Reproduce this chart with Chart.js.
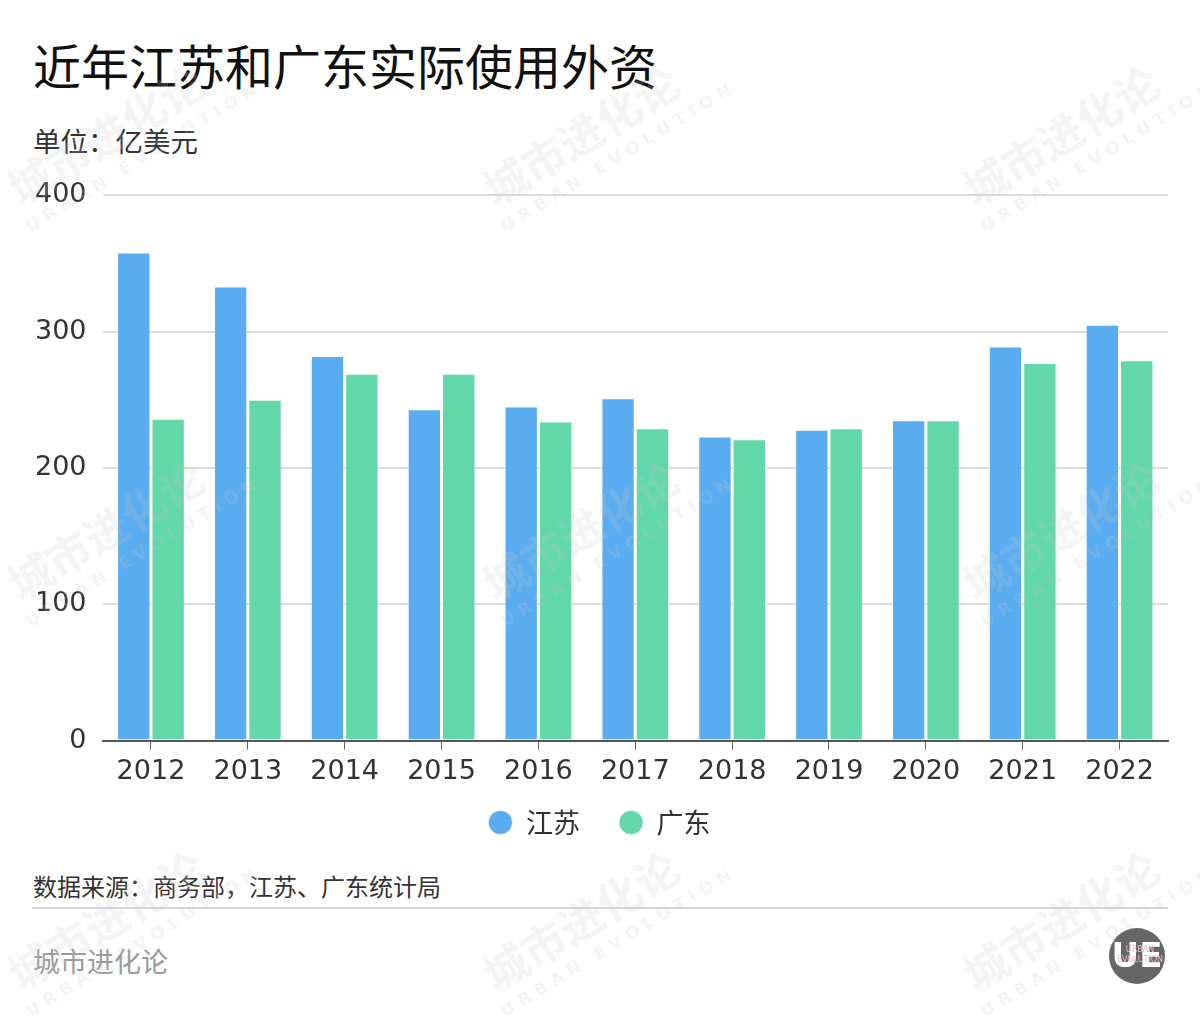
<!DOCTYPE html>
<html>
<head>
<meta charset="utf-8">
<script src="https://cdn.jsdelivr.net/npm/chart.js@4/dist/chart.umd.min.js"></script>
<style>
  body { margin: 0; background: #fff; }
  #page { position: relative; width: 1200px; height: 1020px; overflow: hidden; font-family: "Noto Sans CJK SC", "Noto Sans", sans-serif; }
  #title { position: absolute; left: 33px; top: 29px; font-size: 48px; font-weight: 400; color: #111; }
  #unit { position: absolute; left: 33px; top: 120px; font-size: 27.5px; color: #333; }
  #chartBox { position: absolute; left: 0; top: 163px; width: 1200px; height: 683px; }
  #source { position: absolute; left: 33px; top: 868px; font-size: 24px; color: #333; }
  #rule { position: absolute; left: 32px; top: 907px; width: 1136px; height: 2px; background: #d6d6d6; }
  #brand { position: absolute; left: 33px; top: 941px; font-size: 27px; color: #999; }
  #wm { position: absolute; left: 0; top: 0; pointer-events: none; }
</style>
</head>
<body>
<div id="page">
  <div id="title">近年江苏和广东实际使用外资</div>
  <div id="unit">单位：亿美元</div>
  <div id="chartBox"><canvas id="chart"></canvas></div>
  <div id="source">数据来源：商务部，江苏、广东统计局</div>
  <div id="rule"></div>
  <div id="brand">城市进化论</div>
  <canvas id="wm" width="1200" height="1020"></canvas>
</div>
<script>
// data
const years = ["2012", "2013", "2014", "2015", "2016", "2017", "2018", "2019", "2020", "2021", "2022"];
const jiangsu = [358, 333, 282, 243, 245, 251, 223, 228, 235, 289, 305];
const guangdong = [236, 250, 269, 269, 234, 229, 221, 229, 235, 277, 279];
const yTicks = [0, 100, 200, 300, 400];

const font = "'Noto Sans CJK SC', 'Noto Sans', sans-serif";
const numFont = "'DejaVu Sans', sans-serif";

const ctx = document.getElementById("chart").getContext("2d");
new Chart(ctx, {
  type: "bar",
  data: {
    labels: years,
    datasets: [
      {
        label: "江苏",
        data: jiangsu,
        backgroundColor: "rgb(90, 172, 241)",
        borderColor: "rgba(255, 255, 255, 0.6)",
        borderWidth: 1,
        barPercentage: 0.97,
        categoryPercentage: 0.71,
      },
      {
        label: "广东",
        data: guangdong,
        backgroundColor: "rgb(97, 215, 170)",
        borderColor: "rgba(255, 255, 255, 0.6)",
        borderWidth: 1,
        barPercentage: 0.97,
        categoryPercentage: 0.71,
      },
    ],
  },
  options: {
    responsive: true,
    maintainAspectRatio: false,
    animation: false,
    layout: { padding: { left: 31, right: 32, top: 0, bottom: 0 } },
    scales: {
      x: {
        grid: { display: true, drawOnChartArea: false, drawTicks: true, tickLength: 9, color: "#666", offset: false },
        border: { display: true, color: "#555", width: 2 },
        ticks: { color: "#333", font: { size: 27, family: numFont }, padding: 6 },
      },
      y: {
        min: 0,
        max: 400,
        afterBuildTicks: (axis) => { axis.ticks = yTicks.map((v) => ({ value: v })); },
        // labels may run into the left padding, keeps the legend centred like the original
        afterFit: (axis) => { axis.width -= 12; },
        grid: { color: "#dcdcdc", lineWidth: 2, drawTicks: false },
        border: { display: false },
        ticks: { color: "#333", font: { size: 27, family: numFont }, padding: 16 },
      },
    },
    plugins: {
      legend: {
        position: "bottom",
        labels: {
          usePointStyle: true,
          pointStyle: "circle",
          boxWidth: 24,
          boxHeight: 17,
          padding: 15,
          color: "#333",
          font: { size: 27, family: font },
          // extra room after the first entry
          generateLabels: (chart) =>
            Chart.defaults.plugins.legend.labels.generateLabels(chart).map((item, i) => {
              if (i === 0) item.text = item.text + "    ";
              return item;
            }),
        },
      },
      tooltip: { enabled: false },
    },
  },
});

// light watermarks over the page
const wm = document.getElementById("wm").getContext("2d");
const spots = [[115, 150], [590, 150], [1070, 150], [115, 545], [590, 545], [1070, 545], [115, 935], [590, 935], [1070, 935]];
spots.forEach(([x, y]) => {
  wm.save();
  wm.translate(x, y);
  wm.rotate(-0.55);
  wm.fillStyle = "rgba(200, 200, 200, 0.2)";
  wm.font = "bold 44px " + font;
  wm.textAlign = "center";
  wm.fillText("城市进化论", 0, 0);
  wm.font = "bold 17px 'DejaVu Sans', sans-serif";
  wm.fillText("U R B A N   E V O L U T I O N", 18, 26);
  wm.restore();
});

// round logo bottom right
wm.save();
wm.beginPath();
wm.arc(1137, 956, 28, 0, Math.PI * 2);
wm.fillStyle = "#666";
wm.fill();
wm.fillStyle = "#fff";
wm.font = "bold 34px 'DejaVu Sans', sans-serif";
wm.textAlign = "center";
wm.textBaseline = "middle";
wm.fillText("UE", 1137, 958);
wm.fillStyle = "#f0b8d0";
wm.font = "8px 'DejaVu Sans', sans-serif";
wm.fillText("URBAN", 1140, 950);
wm.fillText("EVOLUTION", 1140, 960);
wm.restore();
</script>
</body>
</html>
